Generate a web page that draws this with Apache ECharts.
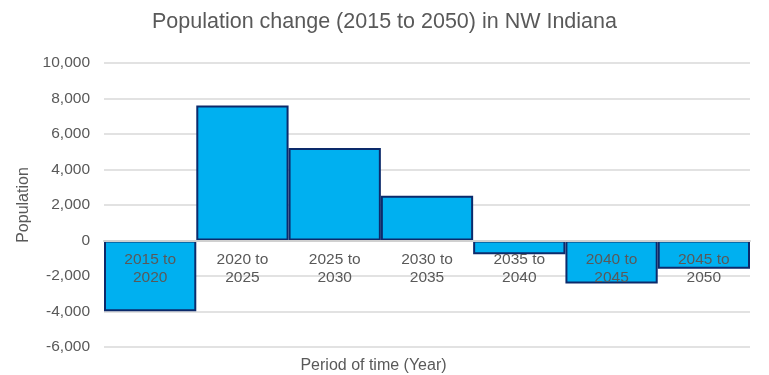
<!DOCTYPE html>
<html>
<head>
<meta charset="utf-8">
<script src="https://cdn.jsdelivr.net/npm/echarts@6/dist/echarts.min.js"></script>
<style>
  html, body { margin: 0; padding: 0; background: #fff; }
  #chart { width: 769px; height: 375px; }
</style>
</head>
<body>
<div id="chart"></div>
<script>
// Five-year periods and the population change in each
const periods = ['2015 to 2020', '2020 to 2025', '2025 to 2030', '2030 to 2035',
                 '2035 to 2040', '2040 to 2045', '2045 to 2050'];
const populationChange = [-3990, 7600, 5210, 2520, -770, -2420, -1590];

// Value axis range
const yMin = -6000;
const yMax = 10000;
const yStep = 2000;

const textColor = '#595959';
const font = 'Liberation Sans, Arial, sans-serif';

const chart = echarts.init(document.getElementById('chart'), null, { renderer: 'canvas' });

chart.setOption({
  animation: false,
  backgroundColor: '#ffffff',
  title: {
    text: 'Population change (2015 to 2050) in NW Indiana',
    left: 'center',
    top: 6,
    padding: [5, 11, 5, 5],
    textStyle: { color: textColor, fontFamily: font, fontSize: 21.5, fontWeight: 'normal' }
  },
  grid: { left: 104, right: 19, top: 63, bottom: 28, containLabel: false, outerBoundsMode: 'none' },
  xAxis: {
    type: 'category',
    data: periods,
    z: 5,
    name: 'Period of time (Year)',
    nameLocation: 'middle',
    nameGap: 11,
    nameTextStyle: { color: textColor, fontFamily: font, fontSize: 16, padding: [0, 107, 0, 0] },
    axisTick: { show: false },
    axisLine: { onZero: true, lineStyle: { color: '#d0d0d0', width: 2 } },
    axisLabel: {
      interval: 0,
      color: textColor,
      fontFamily: font,
      fontSize: 15.5,
      lineHeight: 18,
      // category labels sit just under the zero line
      margin: -96,
      formatter: v => v.replace(' to ', ' to\n')
    },
    splitLine: { show: false }
  },
  yAxis: {
    type: 'value',
    min: yMin,
    max: yMax,
    interval: yStep,
    name: 'Population',
    nameLocation: 'middle',
    nameGap: 70,
    nameRotate: 90,
    nameTextStyle: { color: textColor, fontFamily: font, fontSize: 16 },
    axisLine: { show: false },
    axisTick: { show: false },
    axisLabel: {
      color: textColor,
      fontFamily: font,
      fontSize: 15.5,
      margin: 14,
      formatter: v => v.toLocaleString('en-US')
    },
    splitLine: { lineStyle: { color: '#d9d9d9', width: 1.5 } }
  },
  series: [{
    type: 'bar',
    data: populationChange,
    barCategoryGap: '0%',
    itemStyle: { color: '#00b0f0', borderColor: '#0c2a6b', borderWidth: 2 }
  }]
});
</script>
</body>
</html>
